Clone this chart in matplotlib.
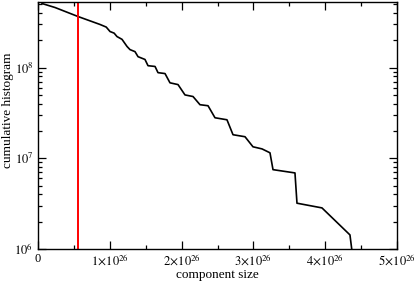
import numpy as np
import matplotlib
matplotlib.use("Agg")
import matplotlib.pyplot as plt
from matplotlib.ticker import FixedLocator, FuncFormatter, LogLocator

# component size (units of 1e26) and cumulative histogram values
size_e26 = [0.056, 0.237, 0.557, 0.864, 0.95, 1.003, 1.06, 1.100, 1.17, 1.240,
            1.281, 1.351, 1.393, 1.490, 1.532, 1.630, 1.671, 1.769, 1.838,
            1.950, 2.047, 2.159, 2.256, 2.368, 2.465, 2.632, 2.716, 2.883,
            2.994, 3.120, 3.231, 3.273, 3.579, 3.607, 3.955, 4.345, 4.373]
cum_hist = [5.09e8, 4.6e8, 3.66e8, 2.99e8, 2.80e8, 2.50e8, 2.40e8, 2.2e8,
            2.05e8, 1.71e8, 1.58e8, 1.50e8, 1.32e8, 1.23e8, 1.05e8, 1.03e8,
            8.8e7, 8.6e7, 6.8e7, 6.5e7, 5.0e7, 4.8e7, 3.9e7, 3.8e7, 2.8e7,
            2.66e7, 1.82e7, 1.73e7, 1.34e7, 1.27e7, 1.15e7, 7.5e6, 6.9e6,
            3.2e6, 2.84e6, 1.43e6, 9.5e5]
cutoff_e26 = 0.557

x_ticks = [0, 1, 2, 3, 4, 5]

plt.rcParams['font.family'] = ['Liberation Serif', 'DejaVu Serif']
plt.rcParams['mathtext.fontset'] = 'stix'

fig = plt.figure(figsize=(4.15, 2.84), dpi=100)
ax = fig.add_axes([0.0916, 0.1232, 0.865, 0.870])

x = np.array(size_e26) * 1e26
ax.plot(x, cum_hist, color='black', lw=1.2)
ax.axvline(cutoff_e26 * 1e26, color='red', lw=1.4)

ax.set_xlim(0, 5e26)
ax.set_yscale('log')
ax.set_ylim(1e6, 5.3e8)

def xfmt(v, pos):
    n = int(round(v / 1e26))
    if n == 0:
        return '0'
    return r'$%d\!\times\!10^{26}$' % n

ax.xaxis.set_major_locator(FixedLocator([t * 1e26 for t in x_ticks]))
ax.xaxis.set_minor_locator(FixedLocator([(t + 0.5) * 1e26 for t in x_ticks[:-1]]))
ax.xaxis.set_major_formatter(FuncFormatter(xfmt))
ax.yaxis.set_major_locator(LogLocator(base=10))
ax.yaxis.set_minor_locator(LogLocator(base=10, subs=np.arange(2, 10)))
ax.yaxis.set_major_formatter(FuncFormatter(lambda v, p: r'$10^{%d}$' % round(np.log10(v))))

ax.tick_params(which='both', direction='in', top=True, right=True, labelsize=9, width=0.9)
ax.tick_params(which='major', length=6)
ax.tick_params(which='minor', length=3)
ax.tick_params(axis='x', pad=3)
for s in ax.spines.values():
    s.set_linewidth(1.0)

ax.set_xlabel('component size', fontsize=9.5, labelpad=0)
ax.set_ylabel('cumulative histogram', fontsize=9.5)
ax.yaxis.set_label_coords(-0.066, 0.56)

fig.savefig('out.png', dpi=100)
